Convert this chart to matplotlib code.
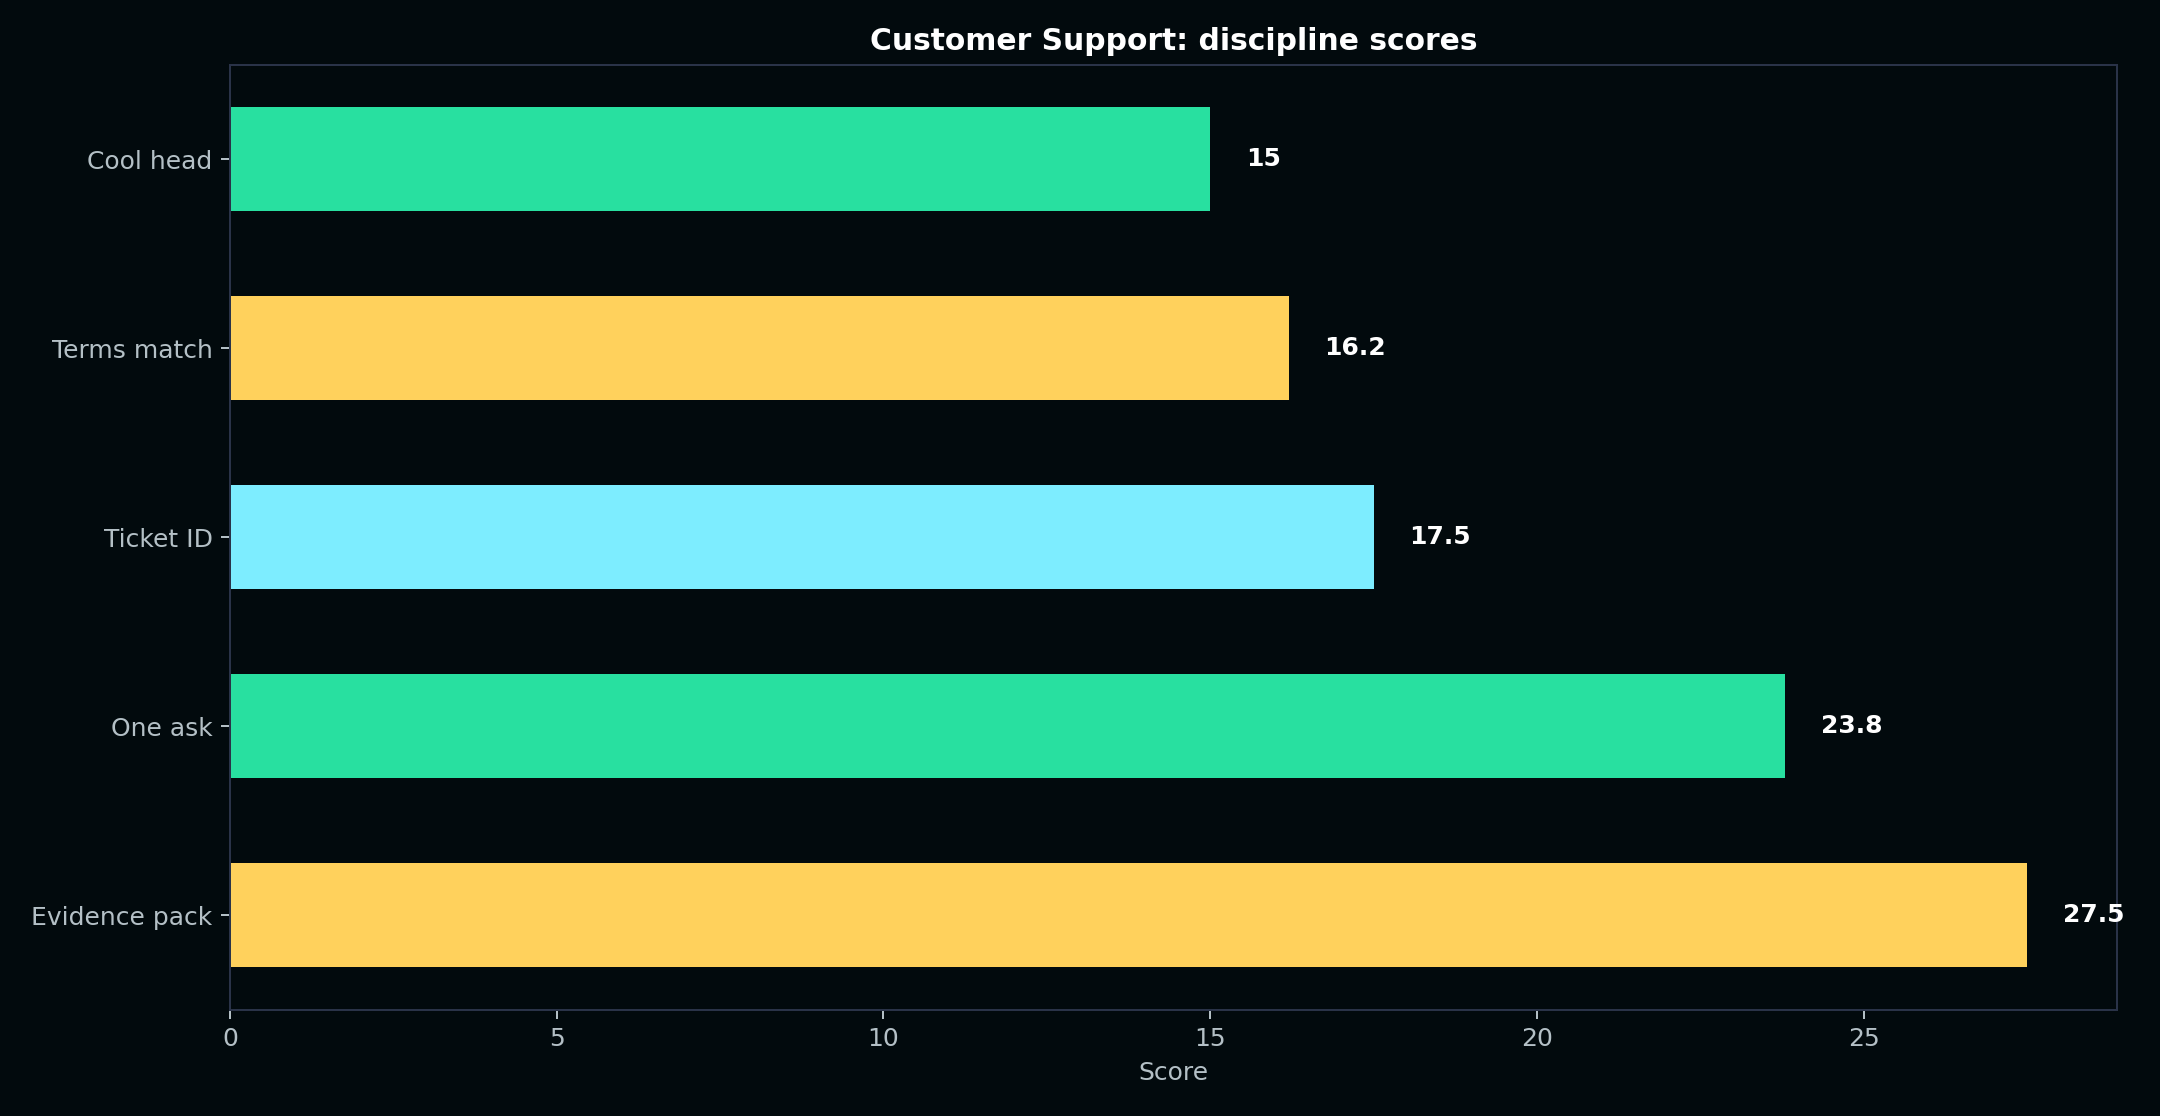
import matplotlib.pyplot as plt

categories = ["Evidence pack", "One ask", "Ticket ID", "Terms match", "Cool head"]
scores = [27.5, 23.8, 17.5, 16.2, 15.0]
bar_colors = ["#FFD15C", "#28E0A0", "#7DEDFF", "#FFD15C", "#28E0A0"]

BG = "#020A0D"
SPINE = "#2A3348"
TICK = "#B4C0C6"

fig, ax = plt.subplots(figsize=(12, 6.2), dpi=180)
fig.patch.set_facecolor(BG)
ax.set_facecolor(BG)

ypos = range(len(categories))
ax.barh(ypos, scores, height=0.55, color=bar_colors)

offset = max(scores) * 0.02
for y, v in zip(ypos, scores):
    label = f"{v:g}"
    ax.text(v + offset, y, label, va="center", ha="left",
            color="white", fontweight="bold", fontsize=10)

ax.set_yticks(list(ypos))
ax.set_yticklabels(categories)
ax.set_xlim(0, max(scores) * 1.05)
ax.set_ylim(-0.5, len(categories) - 0.5)

ax.set_title("Customer Support: discipline scores", color="white",
             fontweight="bold", fontsize=11.9, pad=6)
ax.set_xlabel("Score", color=TICK, fontsize=10)
ax.tick_params(colors=TICK, labelsize=10)
for spine in ax.spines.values():
    spine.set_color(SPINE)

fig.subplots_adjust(left=0.1065, right=0.98, top=0.942, bottom=0.095)
fig.savefig("out.png", dpi=180, facecolor=BG)
